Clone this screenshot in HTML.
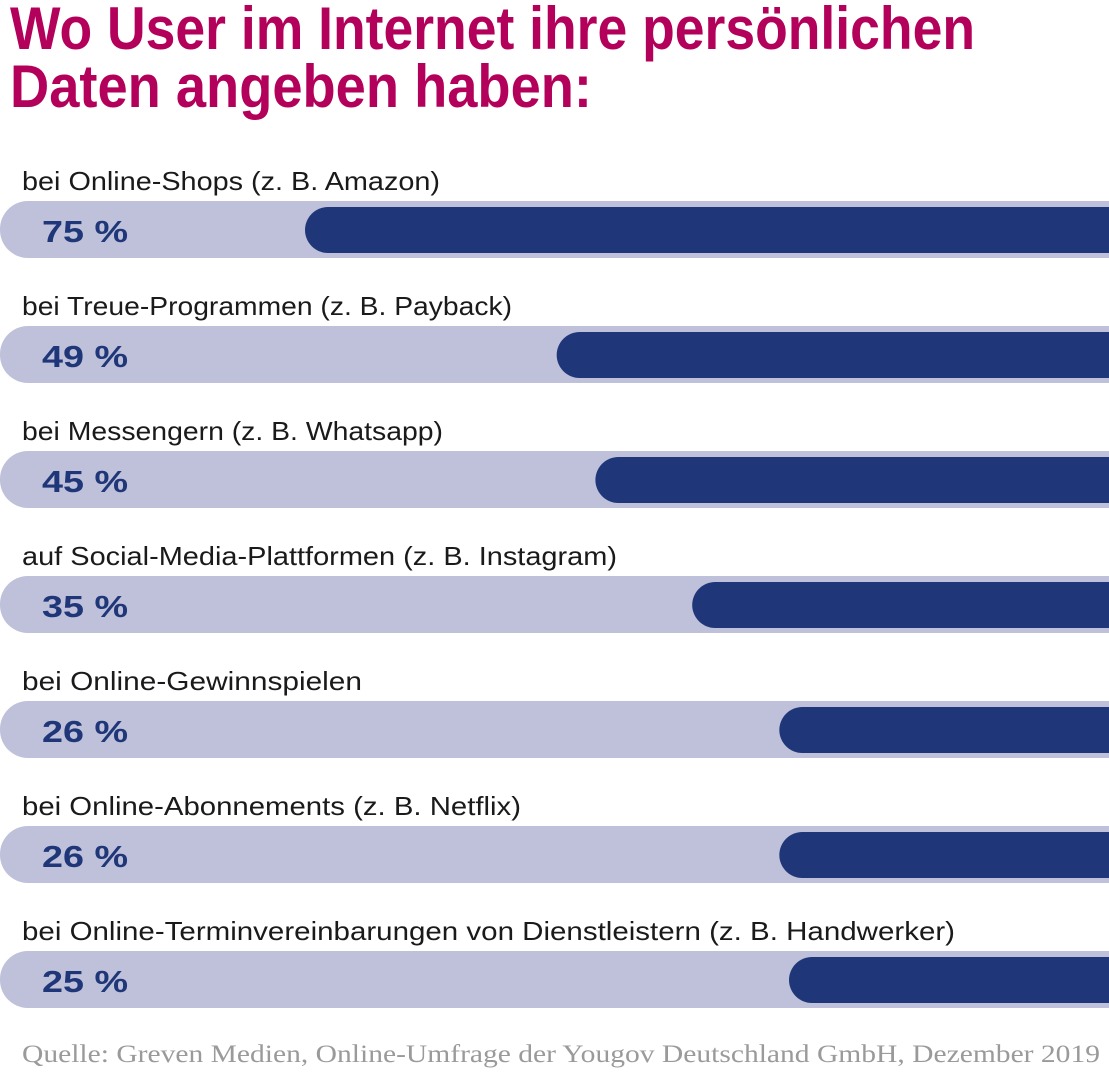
<!DOCTYPE html>
<html><head><meta charset="utf-8"><style>
html,body{margin:0;padding:0;background:#fff;width:1109px;height:1074px;overflow:hidden}
svg{display:block}
</style></head><body>
<svg id="chart" width="1109" height="1074" xmlns="http://www.w3.org/2000/svg">
<text x="10" y="49" font-family="Liberation Sans, sans-serif" font-weight="bold" font-size="60" fill="#B3005A" textLength="965" lengthAdjust="spacingAndGlyphs">Wo User im Internet ihre persönlichen</text>
<text x="10" y="107" font-family="Liberation Sans, sans-serif" font-weight="bold" font-size="60" fill="#B3005A" textLength="582" lengthAdjust="spacingAndGlyphs">Daten angeben haben:</text>
<g id="bars"></g>
<text x="22" y="1062" font-family="Liberation Serif, serif" font-size="25" fill="#9a9a9a" textLength="1078" lengthAdjust="spacingAndGlyphs">Quelle: Greven Medien, Online-Umfrage der Yougov Deutschland GmbH, Dezember 2019</text>
</svg>
<script>
const categories = ["bei Online-Shops (z. B. Amazon)","bei Treue-Programmen (z. B. Payback)","bei Messengern (z. B. Whatsapp)","auf Social-Media-Plattformen (z. B. Instagram)","bei Online-Gewinnspielen","bei Online-Abonnements (z. B. Netflix)","bei Online-Terminvereinbarungen von Dienstleistern (z. B. Handwerker)"];
const values = [75,49,45,35,26,26,25];
const valueLabels = ["75 %","49 %","45 %","35 %","26 %","26 %","25 %"];
const labelWidths = [418,490,421,595,340,499,933];

const NS = "http://www.w3.org/2000/svg";
const g = document.getElementById('bars');
const W = 1109;
function barWidth(v){ return 78 + 9.68 * v; }
function rowTop(i){ return 201 + i * 125; }
function mk(tag, attrs){ const e = document.createElementNS(NS, tag); for (const k in attrs) e.setAttribute(k, attrs[k]); return e; }
values.forEach((v, i) => {
  const y = rowTop(i);
  const lab = mk('text', {x:22, y:y-11, 'font-family':'Liberation Sans, sans-serif', 'font-size':26, fill:'#1a1a1a', textLength:labelWidths[i], lengthAdjust:'spacingAndGlyphs'});
  lab.textContent = categories[i];
  
  
  g.appendChild(lab);
  const bg = mk('rect', {x:0, y:y, width:W+40, height:57, rx:28, fill:'#BFC0DA'});
  
  
  g.appendChild(bg);
  const bw = barWidth(v);
  const bar = mk('rect', {x:W-bw, y:y+6, width:bw+40, height:46, rx:23, fill:'#1F3778'});
  
  
  g.appendChild(bar);
  const vl = mk('text', {x:42, y:y+41, 'font-family':'Liberation Sans, sans-serif', 'font-weight':'bold', 'font-size':31, fill:'#1F3778', textLength:86, lengthAdjust:'spacingAndGlyphs'});
  vl.textContent = valueLabels[i];
  
  
  g.appendChild(vl);
});
</script>
</body></html>
